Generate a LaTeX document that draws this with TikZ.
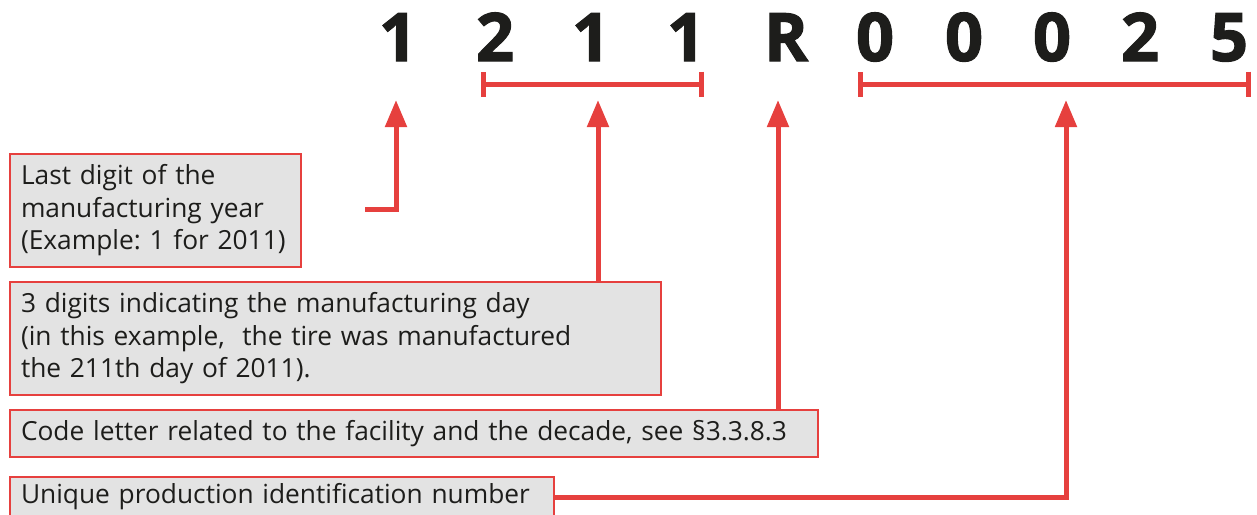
\documentclass[tikz,border=0pt]{standalone}
\usepackage{fontspec}
\setmainfont{Open Sans}
\newfontfamily\digitfont{Open Sans}[BoldFeatures={FakeBold=1.6}]
\usetikzlibrary{arrows.meta}
\definecolor{codered}{HTML}{E6403E}
\definecolor{boxgray}{HTML}{E3E3E3}
\definecolor{ink}{HTML}{1D1D1B}
\frenchspacing
\begin{document}
\begin{tikzpicture}[x=1pt, y=-1pt, line join=miter, >={Triangle[width=21pt,length=27pt]}]

	\tikzset{digit/.style={font=\fontsize{67}{67}\digitfont\bfseries, text=ink, anchor=base, inner sep=0pt},
		infobox/.style={draw=codered, line width=2pt, fill=boxgray, anchor=north west, align=left,
			inner xsep=11pt, inner ysep=0pt, text=ink, font=\fontsize{26.3}{32.5}\selectfont},
		conn/.style={draw=codered, line width=5pt},
		bracket/.style={draw=codered, line width=5pt, {Bar[width=25pt]}-{Bar[width=25pt]}}}

	\useasboundingbox (0,0) rectangle (1257,514);
	\clip (0,0) rectangle (1257,514);

	\foreach \c/\x/\n in {1/398/yr, 2/495/da, 1/591/db, 1/686/dc, R/786/fac, 0/875/pa, 0/964/pb, 0/1052/pc, 2/1140/pd, 5/1229/pe}
	\node[digit] (\n) at (\x,61) {\c};

	\draw[bracket] (481,84)--(704,84);
	\draw[bracket] (858,84)--(1251,84);

	\node[infobox, text width=269pt, minimum height=113pt] (boxyr) at (9,153)
		{Last digit of the\\manufacturing year\\(Example: 1 for 2011)};
	\node[infobox, text width=629pt, minimum height=113pt] (boxday) at (9,281)
		{3 digits indicating the manufacturing day\\(in this example,\ \ the tire was manufactured\\the 211th day of 2011).};
	\node[infobox, text width=786pt, minimum height=47pt] (boxfac) at (9,409)
		{Code letter related to the facility and the decade, see §3.3.8.3};
	\node[infobox, text width=522pt, minimum height=40pt] (boxprod) at (9,476)
		{Unique production identification number};

	\coordinate (tipyr) at (396,100);
	\coordinate (bendyr) at (365,209);
	\coordinate (tipday) at (598,100);
	\coordinate (tipfac) at (778,100);
	\coordinate (tipprod) at (1066,100);
	\draw[conn,->] (bendyr) -| (tipyr);
	\draw[conn,->] (tipday |- boxday.north) -- (tipday);
	\draw[conn,->] (tipfac |- boxfac.north) -- (tipfac);
	\draw[conn,->] (boxprod.east) -| (tipprod);
\end{tikzpicture}
\end{document}
